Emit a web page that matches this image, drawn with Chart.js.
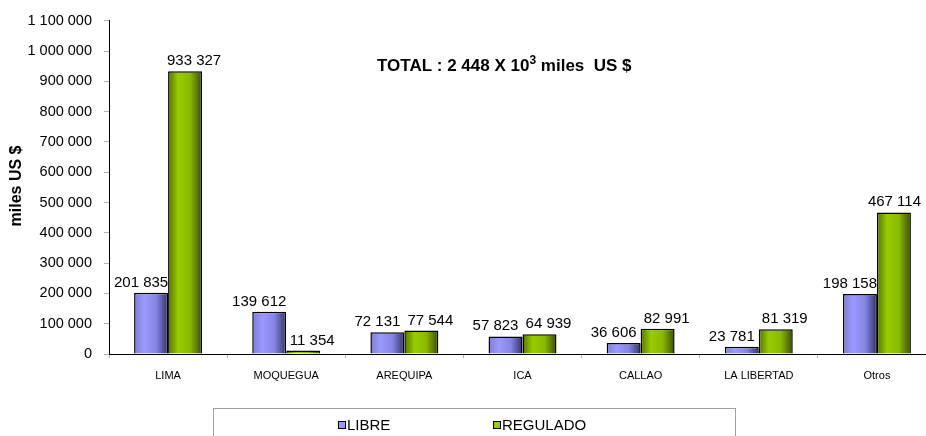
<!DOCTYPE html>
<html>
<head>
<meta charset="utf-8">
<script src="https://cdn.jsdelivr.net/npm/chart.js@4"></script>
<style>
    html, body { margin: 0; padding: 0; background: #fff; }
    #wrap { position: relative; width: 926px; height: 436px; overflow: hidden; }
    #box { position: absolute; left: 0; top: 0; width: 936px; height: 436px; }
    #legend {
        position: absolute; left: 213px; top: 408px; width: 521px; height: 40px;
        border: 1px solid #a0a0a0; font-family: "Liberation Sans", Arial, sans-serif;
        font-size: 15px; color: #000;
    }
    #legend span.item { position: absolute; top: 7px; white-space: nowrap; }
    #legend i { display: inline-block; width: 6px; height: 6px; border: 1px solid #000; margin-right: 1px; vertical-align: 1px; }
</style>
</head>
<body>
<div id="wrap">
    <div id="box"><canvas id="elecChart" width="936" height="436"></canvas></div>
    <div id="legend">
        <span class="item" style="left:124px"><i style="background:#9999ff"></i>LIBRE</span>
        <span class="item" style="left:279px"><i style="background:#99cc00"></i>REGULADO</span>
    </div>
</div>
<script>
var regiones = ["LIMA", "MOQUEGUA", "AREQUIPA", "ICA", "CALLAO", "LA LIBERTAD", "Otros"];
var libre = [201835, 139612, 72131, 57823, 36606, 23781, 198158];
var regulado = [933327, 11354, 77544, 64939, 82991, 81319, 467114];
var yMax = 1100000;
var yStep = 100000;

var FONT = "'Liberation Sans', Arial, sans-serif";

function fmt(v) {
    return String(Math.round(v)).replace(/\B(?=(\d{3})+(?!\d))/g, " ");
}

// horizontal shading on each bar, like the old Excel look
var barShading = {
    id: "barShading",
    beforeDatasetsDraw: function (chart) {
        var ctx = chart.ctx;
        chart.data.datasets.forEach(function (ds, i) {
            var meta = chart.getDatasetMeta(i);
            meta.data.forEach(function (bar) {
                var l = bar.x - bar.width / 2, r = bar.x + bar.width / 2;
                var g = ctx.createLinearGradient(l, 0, r, 0);
                ds.shade.forEach(function (s) { g.addColorStop(s[0], s[1]); });
                // options are shared between bars, so give each bar its own copy
                var o = Object.assign({}, bar.options);
                o.backgroundColor = g;
                bar.options = o;
            });
        });
    }
};

var valueLabels = {
    id: "valueLabels",
    afterDatasetsDraw: function (chart) {
        var ctx = chart.ctx;
        ctx.save();
        ctx.font = "15px " + FONT;
        ctx.fillStyle = "#000";
        ctx.textAlign = "center";
        ctx.textBaseline = "alphabetic";
        chart.data.datasets.forEach(function (ds, i) {
            var meta = chart.getDatasetMeta(i);
            meta.data.forEach(function (bar, j) {
                var txt = fmt(ds.data[j]);
                var w = ctx.measureText(txt).width;
                var x = Math.min(bar.x + ds.labelShift, 921 - w / 2);
                ctx.fillText(txt, x, bar.y - 6);
            });
        });

        // total note
        var x = 377, y = 71;
        ctx.textAlign = "left";
        ctx.font = "bold 17px " + FONT;
        var a = "TOTAL : 2 448 X 10";
        ctx.fillText(a, x, y);
        x += ctx.measureText(a).width;
        ctx.font = "bold 12px " + FONT;
        ctx.fillText("3", x, y - 7);
        x += ctx.measureText("3").width;
        ctx.font = "bold 17px " + FONT;
        ctx.fillText(" miles  US $", x, y);

        // y axis title
        ctx.translate(17, 186);
        ctx.rotate(-Math.PI / 2);
        ctx.textAlign = "center";
        ctx.textBaseline = "middle";
        ctx.font = "bold 16px " + FONT;
        ctx.fillText("miles US $", 0, 0);
        ctx.restore();
    }
};

var ctx = document.getElementById("elecChart").getContext("2d");
var elecChart = new Chart(ctx, {
    type: "bar",
    data: {
        labels: regiones,
        datasets: [
            {
                label: "LIBRE",
                data: libre,
                backgroundColor: "#9999ff",
                borderColor: "#000",
                borderWidth: 1.5,
                labelShift: -10,
                shade: [[0, "#7f7fd0"], [0.3, "#9999ff"], [0.65, "#8585e6"], [1, "#333366"]]
            },
            {
                label: "REGULADO",
                data: regulado,
                backgroundColor: "#99cc00",
                borderColor: "#000",
                borderWidth: 1.5,
                labelShift: 9,
                shade: [[0, "#557200"], [0.3, "#99cc00"], [0.65, "#8ab800"], [1, "#3a4d00"]]
            }
        ]
    },
    options: {
        responsive: false,
        animation: false,
        layout: { padding: { top: 17, right: 0, left: 0, bottom: 0 } },
        datasets: {
            bar: { categoryPercentage: 0.575, barPercentage: 1.0 }
        },
        scales: {
            x: {
                grid: {
                    offset: true,
                    drawOnChartArea: false,
                    color: "#b0b0b0",
                    tickLength: 4
                },
                border: { color: "#000", width: 1 },
                ticks: {
                    color: "#000",
                    padding: 11,
                    maxRotation: 0,
                    autoSkip: false,
                    font: { size: 11, family: FONT }
                },
                afterFit: function (s) { s.height = 82; }
            },
            y: {
                min: 0,
                max: yMax,
                grid: {
                    drawOnChartArea: false,
                    color: "#b0b0b0",
                    tickLength: 5
                },
                border: { color: "#000", width: 1 },
                ticks: {
                    stepSize: yStep,
                    color: "#000",
                    padding: 12,
                    font: { size: 14.5, family: FONT },
                    callback: function (v) { return fmt(v); }
                },
                afterFit: function (s) { s.width = 109; }
            }
        },
        plugins: {
            legend: { display: false },
            tooltip: { enabled: false }
        }
    },
    plugins: [barShading, valueLabels]
});
</script>
</body>
</html>
